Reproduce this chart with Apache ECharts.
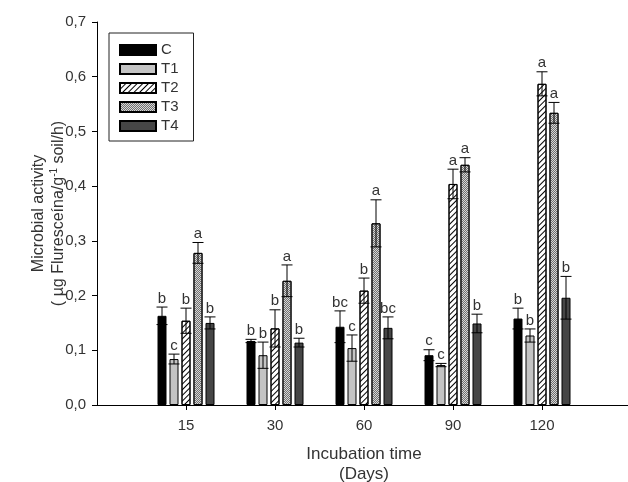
<!DOCTYPE html>
<html>
<head>
<meta charset="utf-8">
<script src="https://cdn.jsdelivr.net/npm/echarts@6/dist/echarts.min.js"></script>
<style>
  html, body { margin: 0; padding: 0; background: #fff; }
  #chart { width: 628px; height: 482px; }
</style>
</head>
<body>
<div id="chart"></div>
<script>
// incubation days
const days = ['15', '30', '60', '90', '120'];
const treatments = ['C', 'T1', 'T2', 'T3', 'T4'];

// mean microbial activity per treatment (µg fluoresceína / g soil / h)
const meanC  = [0.163, 0.117, 0.143, 0.091, 0.158];
const meanT1 = [0.084, 0.091, 0.104, 0.073, 0.127];
const meanT2 = [0.154, 0.140, 0.209, 0.404, 0.587];
const meanT3 = [0.278, 0.227, 0.332, 0.439, 0.534];
const meanT4 = [0.150, 0.114, 0.141, 0.149, 0.196];

// error (half length of bar)
const errC  = [0.016, 0.003, 0.029, 0.010, 0.019];
const errT1 = [0.009, 0.024, 0.024, 0.003, 0.012];
const errT2 = [0.023, 0.034, 0.023, 0.027, 0.022];
const errT3 = [0.019, 0.029, 0.043, 0.013, 0.019];
const errT4 = [0.011, 0.008, 0.020, 0.017, 0.039];

// significance letters
const letC  = ['b', 'b', 'bc', 'c', 'b'];
const letT1 = ['c', 'b', 'c', 'c', 'b'];
const letT2 = ['b', 'b', 'b', 'a', 'a'];
const letT3 = ['a', 'a', 'a', 'a', 'a'];
const letT4 = ['b', 'b', 'bc', 'b', 'b'];

const yTicks = [0, 0.1, 0.2, 0.3, 0.4, 0.5, 0.6, 0.7];

const means = [meanC, meanT1, meanT2, meanT3, meanT4];
const errs = [errC, errT1, errT2, errT3, errT4];
const letters = [letC, letT1, letT2, letT3, letT4];

const FONT = 'Liberation Sans, Arial, sans-serif';
const BAR_W = 9;
const BAR_GAP = 3;

// empty slot at each end so groups sit at 1/6 .. 5/6 of the axis
const axisCats = [''].concat(days, ['']);

const styles = [
  { color: '#000000', borderColor: '#000', borderWidth: 1 },
  { color: '#c4c4c4', borderColor: '#000', borderWidth: 1 },
  { color: '#ffffff', borderColor: '#000', borderWidth: 1,
    decal: { symbol: 'rect', symbolSize: 1, dashArrayX: [1, 0], dashArrayY: [1, 3], rotation: -Math.PI / 4, color: '#000' } },
  { color: '#d6d6d6', borderColor: '#000', borderWidth: 1,
    decal: { symbol: 'rect', symbolSize: 1, dashArrayX: [[1, 1], [0, 1, 1, 0]], dashArrayY: [1, 0], color: '#707070' } },
  { color: '#464646', borderColor: '#000', borderWidth: 1 }
];

var series = [];
treatments.forEach(function (name, s) {
  series.push({
    name: name,
    type: 'bar',
    barWidth: BAR_W,
    barGap: (BAR_GAP / BAR_W * 100) + '%',
    itemStyle: styles[s],
    emphasis: { disabled: true },
    data: ['-'].concat(means[s], ['-'])
  });
});

// error bars + letters
treatments.forEach(function (name, s) {
  var offset = (s - 2) * (BAR_W + BAR_GAP);
  series.push({
    name: 'err ' + name,
    type: 'custom',
    z: 3,
    silent: true,
    renderItem: function (params, api) {
      var idx = api.value(0);
      var m = api.value(1);
      var e = api.value(2);
      var x = api.coord([idx, m])[0] + offset;
      var yTop = api.coord([idx, m + e])[1];
      var yBot = api.coord([idx, m - e])[1];
      var cap = 5.5;
      var ls = { stroke: '#000', lineWidth: 1 };
      return {
        type: 'group',
        children: [
          { type: 'line', shape: { x1: x, y1: yTop, x2: x, y2: yBot }, style: ls },
          { type: 'line', shape: { x1: x - cap, y1: yTop, x2: x + cap, y2: yTop }, style: ls },
          { type: 'line', shape: { x1: x - cap, y1: yBot, x2: x + cap, y2: yBot }, style: ls },
          { type: 'text', x: x, y: yTop - 1,
            style: { text: letters[s][params.dataIndex], fill: '#333', font: '15px ' + FONT,
                     align: 'center', verticalAlign: 'bottom' } }
        ]
      };
    },
    encode: { x: 0, y: 1 },
    data: days.map(function (d, i) { return [i + 1, means[s][i], errs[s][i]]; })
  });
});

var chart = echarts.init(document.getElementById('chart'));
chart.setOption({
  animation: false,
  backgroundColor: '#fff',
  textStyle: { fontFamily: FONT },
  grid: { left: 97, right: -3, top: 22, bottom: 77, containLabel: false, outerBoundsMode: 'none' },
  legend: {
    data: treatments,
    orient: 'vertical',
    left: 109,
    top: 33,
    icon: 'rect',
    itemWidth: 36,
    itemHeight: 10,
    itemGap: 3,
    padding: [9, 15, 7, 10],
    borderColor: '#222',
    borderWidth: 1,
    selectedMode: false,
    textStyle: { fontSize: 15, color: '#333', lineHeight: 16, fontFamily: FONT }
  },
  xAxis: {
    type: 'category',
    data: axisCats,
    boundaryGap: false,
    name: 'Incubation time\n(Days)',
    nameLocation: 'middle',
    nameGap: 39,
    nameMoveOverlap: false,
    nameTextStyle: { fontSize: 17, color: '#333', lineHeight: 20, fontFamily: FONT },
    axisLine: { lineStyle: { color: '#000', width: 1 } },
    axisTick: { length: 5, lineStyle: { color: '#000' },
                interval: function (i) { return i > 0 && i < axisCats.length - 1; } },
    axisLabel: { interval: 0, fontSize: 15, color: '#333', margin: 13, fontFamily: FONT },
    splitLine: { show: false }
  },
  yAxis: {
    type: 'value',
    min: yTicks[0],
    max: yTicks[yTicks.length - 1],
    interval: 0.1,
    name: 'Microbial activity\n( µg Fluresceína/g{s|-1} soil/h)',
    nameLocation: 'middle',
    nameRotate: 90,
    nameGap: 28,
    nameMoveOverlap: false,
    nameTextStyle: { fontSize: 16, color: '#333', lineHeight: 20, fontFamily: FONT,
                     rich: { s: { fontSize: 10, verticalAlign: 'top', color: '#333', fontFamily: FONT } } },
    axisLine: { show: true, lineStyle: { color: '#000', width: 1 } },
    axisTick: { show: true, length: 5, lineStyle: { color: '#000' } },
    axisLabel: { fontSize: 15, color: '#333', margin: 11, fontFamily: FONT,
                 formatter: function (v) { return v.toFixed(1).replace('.', ','); } },
    splitLine: { show: false }
  },
  series: series
});
</script>
</body>
</html>
